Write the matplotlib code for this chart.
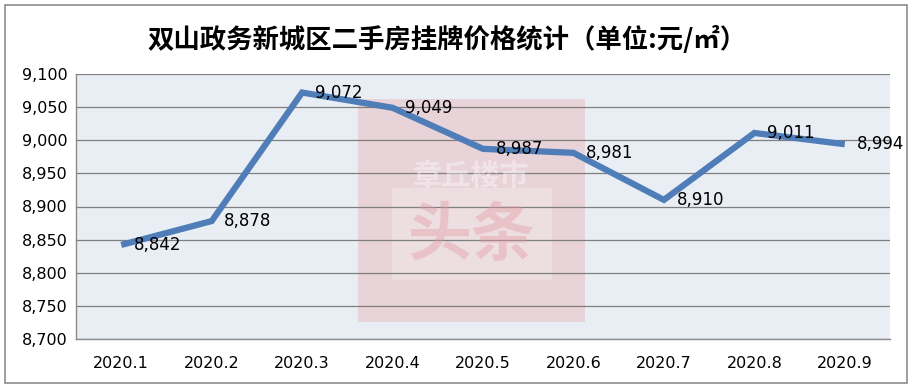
import matplotlib
matplotlib.use("Agg")
import matplotlib.pyplot as plt
from matplotlib.patches import Rectangle
from matplotlib.ticker import FuncFormatter, MultipleLocator

plt.rcParams['font.family'] = ['Noto Sans CJK SC', 'DejaVu Sans']

months = ["2020.1", "2020.2", "2020.3", "2020.4", "2020.5", "2020.6", "2020.7", "2020.8", "2020.9"]
prices = [8842, 8878, 9072, 9049, 8987, 8981, 8910, 9011, 8994]
title = "双山政务新城区二手房挂牌价格统计（单位:元/㎡）"

fig = plt.figure(figsize=(9.15, 3.9), dpi=100)
fig.patch.set_facecolor("white")
# outer border
fig.add_artist(Rectangle((5/915, 1-383/390), 902/915, 378/390, transform=fig.transFigure,
                         fill=False, edgecolor="#8c8c8c", linewidth=1.2))

ax = fig.add_axes([76/915, 1-339/390, 814/915, 265/390])
ax.set_facecolor("#e9eef5")

# watermark
ax.add_artist(Rectangle((358/915, 1-322/390), 227/915, 223/390, transform=fig.transFigure,
                        facecolor="#e8b4b8", alpha=0.45, edgecolor="none", zorder=1))
ax.add_artist(Rectangle((392/915, 1-280/390), 160/915, 92/390, transform=fig.transFigure,
                        facecolor="white", alpha=0.25, edgecolor="none", zorder=1))
fig.text(471/915, 1-176/390, "章丘楼市", ha="center", va="center", fontsize=21,
         color="white", alpha=0.4, fontweight="bold", zorder=2)
fig.text(471/915, 1-236/390, "头条", ha="center", va="center", fontsize=46,
         color="#e39aa2", alpha=0.4, fontweight="bold", zorder=2)

x = list(range(len(months)))
ax.plot(x, prices, color="#4f7db8", linewidth=4.5, solid_capstyle="butt",
        solid_joinstyle="miter", zorder=4)
for xi, v in zip(x, prices):
    ax.annotate(f"{v:,}", (xi, v), xytext=(9, 0), textcoords="offset points",
                ha="left", va="center", fontsize=12, color="black",
                family=["DejaVu Sans"], zorder=5)

ax.set_xlim(-0.5, len(months) - 0.5)
ax.set_ylim(8700, 9100)
ax.yaxis.set_major_locator(MultipleLocator(50))
ax.yaxis.set_major_formatter(FuncFormatter(lambda v, p: f"{int(v):,}"))
ax.set_xticks(x)
ax.set_xticklabels(months)
ax.tick_params(axis="both", length=0, labelsize=11.5, colors="black")
ax.tick_params(axis="x", pad=12)
ax.tick_params(axis="y", pad=6)
for lab in ax.get_xticklabels() + ax.get_yticklabels():
    lab.set_family(["DejaVu Sans"])
ax.grid(axis="y", color="#7f7f7f", linewidth=0.9, zorder=3)
ax.set_axisbelow(False)
for s in ["top", "right"]:
    ax.spines[s].set_visible(False)
for s in ["left", "bottom"]:
    ax.spines[s].set_color("#8c8c8c")
    ax.spines[s].set_linewidth(1.0)

fig.text(447/915, 1-40/390, title, ha="center", va="center", fontsize=19,
         fontweight="bold", color="black")

fig.savefig("out.png", dpi=100, facecolor="white")
